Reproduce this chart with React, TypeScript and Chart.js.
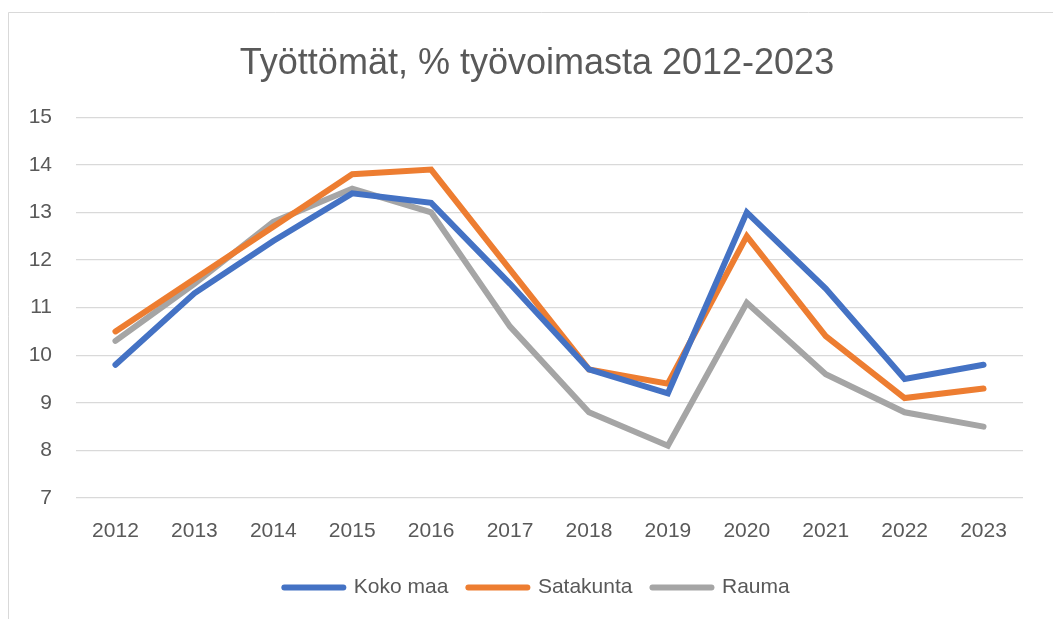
import React, { useEffect, useRef } from "react";
import { Chart, registerables } from "chart.js";

Chart.register(...registerables);

const years = ["2012", "2013", "2014", "2015", "2016", "2017", "2018", "2019", "2020", "2021", "2022", "2023"];
const kokoMaa = [9.8, 11.3, 12.4, 13.4, 13.2, 11.5, 9.7, 9.2, 13.0, 11.4, 9.5, 9.8];
const satakunta = [10.5, 11.6, 12.7, 13.8, 13.9, 11.8, 9.7, 9.4, 12.5, 10.4, 9.1, 9.3];
const rauma = [10.3, 11.5, 12.8, 13.5, 13.0, 10.6, 8.8, 8.1, 11.1, 9.6, 8.8, 8.5];
const seriesNames = ["Koko maa", "Satakunta", "Rauma"];
const seriesColors = ["#4472C4", "#ED7D31", "#A5A5A5"];
const titleText = "Työttömät, % työvoimasta 2012-2023";

const FONT = "'Liberation Sans', Arial, sans-serif";
const TEXT_COLOR = "#595959";

const framePlugin = {
  id: "frame",
  beforeDraw(chart: any) {
    const ctx = chart.ctx;
    ctx.save();
    ctx.fillStyle = "#ffffff";
    ctx.fillRect(0, 0, chart.width, chart.height);
    ctx.strokeStyle = "#d9d9d9";
    ctx.lineWidth = 1;
    ctx.beginPath();
    ctx.moveTo(8.5, chart.height + 5);
    ctx.lineTo(8.5, 12.5);
    ctx.lineTo(chart.width + 5, 12.5);
    ctx.stroke();
    ctx.restore();
  },
};

export default function App() {
  const canvasRef = useRef<HTMLCanvasElement | null>(null);

  useEffect(() => {
    if (!canvasRef.current) return;
    const allSeries = [kokoMaa, satakunta, rauma];
    const chart = new Chart(canvasRef.current, {
      type: "line",
      data: {
        labels: years,
        datasets: allSeries.map((d, i) => ({
          label: seriesNames[i],
          data: d,
          borderColor: seriesColors[i],
          backgroundColor: seriesColors[i],
          borderWidth: 6,
          borderCapStyle: "round",
          borderJoinStyle: "miter",
          pointRadius: 0,
          pointHoverRadius: 0,
          tension: 0,
          fill: false,
          yAxisID: "y",
        })),
      },
      options: {
        animation: false,
        responsive: false,
        maintainAspectRatio: false,
        layout: { padding: { left: 0, right: 0, top: 0, bottom: 11 } },
        plugins: {
          tooltip: { enabled: false },
          title: {
            display: true,
            text: titleText,
            color: TEXT_COLOR,
            font: { family: FONT, size: 36, weight: "normal", lineHeight: 1.2 },
            padding: { top: 42, bottom: 32 },
          },
          legend: {
            position: "bottom",
            labels: {
              color: TEXT_COLOR,
              font: { family: FONT, size: 21 },
              usePointStyle: true,
              pointStyle: "line",
              pointStyleWidth: 59,
              boxHeight: 21,
              padding: 20,
              generateLabels: (c: any) =>
                c.data.datasets.map((ds: any, i: number) => ({
                  text: ds.label,
                  fillStyle: ds.borderColor,
                  strokeStyle: ds.borderColor,
                  lineWidth: 6,
                  lineCap: "round",
                  pointStyle: "line",
                  hidden: false,
                  datasetIndex: i,
                  fontColor: TEXT_COLOR,
                })),
            },
          },
        },
        scales: {
          x: {
            offset: true,
            grid: { display: false, drawTicks: false },
            border: { display: false },
            ticks: {
              color: TEXT_COLOR,
              font: { family: FONT, size: 21 },
              padding: 21,
              maxRotation: 0,
              autoSkip: false,
            },
            afterFit: (s: any) => {
              s.height = 59;
            },
          },
          y: {
            position: "left",
            min: 7,
            max: 15,
            grid: { color: "#d9d9d9", lineWidth: 1.3, drawTicks: false },
            border: { display: false },
            ticks: {
              stepSize: 1,
              color: TEXT_COLOR,
              font: { family: FONT, size: 21 },
              padding: 24,
            },
            afterFit: (s: any) => {
              s.width = 76;
            },
          },
          yPad: {
            type: "linear",
            position: "right",
            min: 7,
            max: 15,
            grid: { display: false, drawTicks: false },
            border: { display: false },
            ticks: { display: false },
            afterFit: (s: any) => {
              s.width = 51;
            },
          },
        },
      },
      plugins: [framePlugin],
    } as any);
    return () => chart.destroy();
  }, []);

  return (
    <div style={{ position: "fixed", left: 0, top: 0, width: 1053, height: 619, overflow: "hidden", background: "#fff" }}>
      <canvas ref={canvasRef} width={1074} height={619} style={{ display: "block", width: 1074, height: 619 }} />
    </div>
  );
}
